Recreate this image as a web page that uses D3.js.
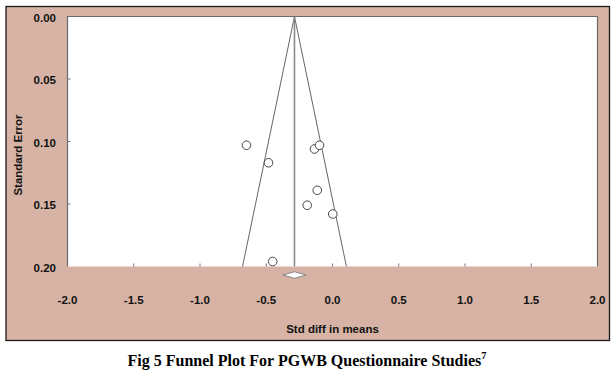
<!DOCTYPE html>
<html>
<head>
<meta charset="utf-8">
<script src="https://cdn.jsdelivr.net/npm/d3@7"></script>
<style>
  html, body { margin: 0; padding: 0; background: #fff; }
  svg { display: block; }
</style>
</head>
<body>
<svg id="chart" width="616" height="371"></svg>
<script>
// ---- data ----
const studyEffects = [-0.649, -0.483, -0.136, -0.098, -0.115, -0.191, 0.002, -0.451];
const studyStdErrors = [0.103, 0.117, 0.106, 0.103, 0.139, 0.151, 0.158, 0.196];
const pooledEffect = -0.287;
const pooledLower = -0.375;
const pooledUpper = -0.199;
const xTicks = [-2.0, -1.5, -1.0, -0.5, 0.0, 0.5, 1.0, 1.5, 2.0];
const yTicks = [0.00, 0.05, 0.10, 0.15, 0.20];
const xTitle = "Std diff in means";
const yTitle = "Standard Error";
const caption = "Fig 5 Funnel Plot For PGWB Questionnaire Studies";
const captionSup = "7";

(function () {
const svg = d3.select("#chart");
const pink = "#d6b3a4";
const pL = 67.5, pR = 597.5, pT = 16.5, pB = 266.5;

const x = d3.scaleLinear().domain([-2, 2]).range([pL, pR]);
const y = d3.scaleLinear().domain([0, 0.2]).range([pT, pB]);
const fmtX = d => d3.format(".1f")(d).replace("\u2212", "-");
const fmtY = d => d3.format(".2f")(d);

// outer framed panel
svg.append("rect").attr("x", 6).attr("y", 6.5).attr("width", 603.5).attr("height", 334)
  .attr("fill", pink).attr("stroke", "#1a1a1a").attr("stroke-width", 1.3);

// plot area
svg.append("rect").attr("x", pL).attr("y", pT).attr("width", pR - pL).attr("height", pB - pT)
  .attr("fill", "#fff");
svg.append("path")
  .attr("d", `M${pL},${pB}V${pT}H${pR}V${pB}`)
  .attr("fill", "none").attr("stroke", "#6a6a6a").attr("stroke-width", 1.2);

// ticks (inside)
const font = "'Liberation Sans', Arial, Helvetica, sans-serif";
svg.append("g").selectAll("line").data(xTicks.slice(1, -1)).join("line")
  .attr("x1", d => x(d)).attr("x2", d => x(d)).attr("y1", pB).attr("y2", pB - 3)
  .attr("stroke", "#777").attr("stroke-width", 1);
svg.append("g").selectAll("line").data(yTicks.slice(1, -1)).join("line")
  .attr("x1", pL).attr("x2", pL + 3).attr("y1", d => y(d)).attr("y2", d => y(d))
  .attr("stroke", "#777").attr("stroke-width", 1);

// tick labels
svg.append("g").selectAll("text").data(xTicks).join("text")
  .attr("x", d => x(d)).attr("y", 300).attr("dy", "0.35em")
  .attr("text-anchor", "middle")
  .attr("font-family", font).attr("font-weight", "bold").attr("font-size", 11.5)
  .attr("fill", "#111").text(fmtX);
svg.append("g").selectAll("text").data(yTicks).join("text")
  .attr("x", 56).attr("y", d => y(d) + 1).attr("dy", "0.35em")
  .attr("text-anchor", "end")
  .attr("font-family", font).attr("font-weight", "bold").attr("font-size", 11.5)
  .attr("fill", "#111").text(fmtY);

// axis titles
svg.append("text").attr("x", (pL + pR) / 2).attr("y", 329).attr("dy", "0.35em")
  .attr("text-anchor", "middle").attr("font-family", font).attr("font-weight", "bold")
  .attr("font-size", 11.5).attr("fill", "#111").text(xTitle);
svg.append("text").attr("transform", "translate(17.5,155) rotate(-90)").attr("dy", "0.35em")
  .attr("text-anchor", "middle").attr("font-family", font).attr("font-weight", "bold")
  .attr("font-size", 11.5).attr("fill", "#111").text(yTitle);

// funnel
const seMax = 0.2;
const funnel = [
  [pooledEffect - 1.96 * seMax, seMax],
  [pooledEffect, 0],
  [pooledEffect + 1.96 * seMax, seMax]
];
svg.append("path")
  .attr("d", d3.line().x(d => x(d[0])).y(d => y(d[1]))(funnel))
  .attr("fill", "none").attr("stroke", "#555").attr("stroke-width", 0.9);
svg.append("line")
  .attr("x1", x(pooledEffect)).attr("x2", x(pooledEffect)).attr("y1", y(0)).attr("y2", y(seMax))
  .attr("stroke", "#8a8a8a").attr("stroke-width", 1.6);

// studies
const studies = studyEffects.map((e, i) => ({ e, se: studyStdErrors[i] }));
svg.append("g").selectAll("circle").data(studies).join("circle")
  .attr("cx", d => x(d.e)).attr("cy", d => y(d.se)).attr("r", 4.3)
  .attr("fill", "#fff").attr("stroke", "#333").attr("stroke-width", 0.9);

// pooled diamond
const dmY = 275;
svg.append("path")
  .attr("d", `M${x(pooledLower)},${dmY}L${x(pooledEffect)},${dmY - 3.3}L${x(pooledUpper)},${dmY}L${x(pooledEffect)},${dmY + 3.3}Z`)
  .attr("fill", "#fff").attr("stroke", "#888").attr("stroke-width", 1);

// caption
const cap = svg.append("text").attr("x", 307).attr("y", 365.5)
  .attr("text-anchor", "middle")
  .attr("font-family", "'Liberation Serif', 'Times New Roman', serif")
  .attr("font-weight", "bold").attr("font-size", 16).attr("fill", "#000");
cap.append("tspan").text(caption);
cap.append("tspan").attr("font-size", 10.5).attr("dy", -6.5).text(captionSup);
})();
</script>
</body>
</html>
